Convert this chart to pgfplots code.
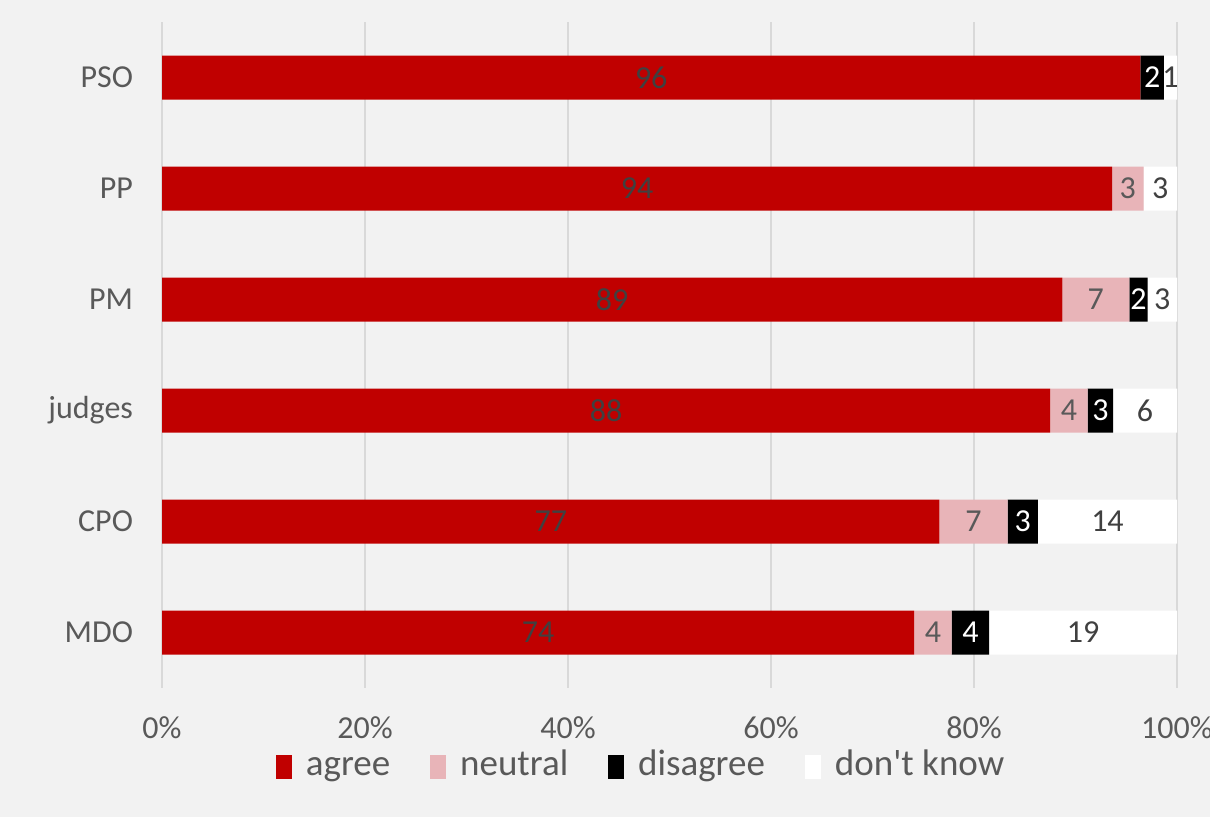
\documentclass[border=0pt]{standalone}
\usepackage{fontspec}
\setmainfont{Carlito}
\usepackage{pgfplots}
\usepackage{pgfplotstable}
\pgfplotsset{compat=1.18}
\definecolor{bg}{HTML}{F2F2F2}
\definecolor{agreec}{HTML}{C00000}
\definecolor{neutralc}{HTML}{E8B4B8}
\definecolor{gridc}{HTML}{D9D9D9}
\definecolor{txt}{HTML}{595959}
\definecolor{dtxt}{HTML}{404040}

% values in percent of respondents (row sums = 100)
\pgfplotstableread{
y agree neutral disagree dk
0 74.1 3.7 3.7 18.5
1 76.6 6.7 3.0 13.7
2 87.5 3.7 2.5 6.3
3 88.7 6.6 1.8 2.9
4 93.6 3.1 0.0 3.3
5 96.4 0.0 2.3 1.3
}\data

% label positions (segment centres) and label texts
\pgfplotstableread{
y c l
0 37.05 74
1 38.30 77
2 43.75 88
3 44.35 89
4 46.80 94
5 48.20 96
}\labA
\pgfplotstableread{
y c l
0 75.95 4
1 79.95 7
2 89.35 4
3 92.00 7
4 95.15 3
}\labN
\pgfplotstableread{
y c l
0 79.65 4
1 84.80 3
2 92.45 3
3 96.20 2
5 97.55 2
}\labD
\pgfplotstableread{
y c l
0 90.75 19
1 93.15 14
2 96.85 6
3 98.55 3
4 98.35 3
5 99.35 1
}\labK

\begin{document}
\begin{tikzpicture}
\fill[bg] (0bp,0bp) rectangle (605bp,408.5bp);
\useasboundingbox (0bp,0bp) rectangle (605bp,408.5bp);
\pgfplotsset{
  common/.style={
    at={(81bp,64.5bp)}, anchor=south west,
    scale only axis, width=507.5bp, height=333bp,
    xmin=0, xmax=100, ymin=-0.5, ymax=5.5,
  }
}
\begin{axis}[
  common,
  xbar stacked, bar width=22bp,
  ytick={0,...,5}, yticklabels={MDO,CPO,judges,PM,PP,PSO},
  xtick={0,20,...,100}, xticklabels={0\%,20\%,40\%,60\%,80\%,100\%},
  xmajorgrids, grid style={gridc, line width=0.75bp},
  axis line style={draw=none}, major tick style={draw=none},
  tick label style={font=\fontsize{16bp}{19bp}\selectfont, text=txt},
  xticklabel style={yshift=-11bp},
  yticklabel style={xshift=-11bp},
  legend style={at={(axis description cs:0.473,-0.118)}, anchor=center,
    draw=none, fill=none, font=\fontsize{18.5bp}{22bp}\selectfont, text=txt,
    legend columns=4,
    nodes={text height=13bp, text depth=4bp},
    /tikz/every even column/.append style={column sep=18bp},
    /tikz/every odd column/.append style={column sep=5bp}},
  legend image code/.code={\fill[#1] (0bp,-6bp) rectangle (8bp,6bp);},
  legend cell align=left,
]
\addplot[fill=agreec, draw=none] table[x=agree, y=y] {\data};
\addplot[fill=neutralc, draw=none] table[x=neutral, y=y] {\data};
\addplot[fill=black, draw=none] table[x=disagree, y=y] {\data};
\addplot[fill=white, draw=none] table[x=dk, y=y] {\data};
\legend{agree, neutral, disagree, don\textquotesingle t know}
\end{axis}
\begin{axis}[
  common, hide axis,
  nodes near coords, point meta=explicit symbolic,
  nodes near coords align={center},
  every node near coord/.append style={anchor=center, inner sep=0pt,
     font=\fontsize{16bp}{19bp}\selectfont},
]
\addplot[draw=none, mark=none, every node near coord/.append style={text=dtxt}] table[x=c, y=y, meta=l] {\labA};
\addplot[draw=none, mark=none, every node near coord/.append style={text=txt}] table[x=c, y=y, meta=l] {\labN};
\addplot[draw=none, mark=none, every node near coord/.append style={text=white}] table[x=c, y=y, meta=l] {\labD};
\addplot[draw=none, mark=none, every node near coord/.append style={text=dtxt}] table[x=c, y=y, meta=l] {\labK};
\end{axis}
\end{tikzpicture}
\end{document}
